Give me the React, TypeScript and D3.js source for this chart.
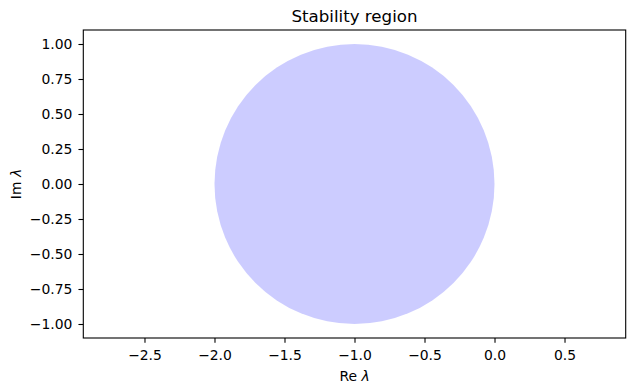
import { useEffect, useRef } from "react";
import * as d3 from "d3";

// stability region of forward Euler: |1 + λ| <= 1
const CENTER = { re: -1, im: 0 };
const RADIUS = 1;
const X_TICKS = [-2.5, -2.0, -1.5, -1.0, -0.5, 0.0, 0.5];
const Y_TICKS = [-1.0, -0.75, -0.5, -0.25, 0.0, 0.25, 0.5, 0.75, 1.0];
const X_DOMAIN: [number, number] = [-2.937, 0.937];
const Y_DOMAIN: [number, number] = [-1.1, 1.1];

const W = 635, H = 392;
const margin = { top: 30, right: 9.3, bottom: 54, left: 83.3 };
const FONT = "'DejaVu Sans', sans-serif";

export default function App() {
  const svgRef = useRef<SVGSVGElement>(null);

  useEffect(() => {
    if (!svgRef.current) return;
    const svg = d3.select(svgRef.current);
    svg.selectAll("*").remove();

    const x = d3.scaleLinear().domain(X_DOMAIN).range([margin.left, W - margin.right]);
    const y = d3.scaleLinear().domain(Y_DOMAIN).range([H - margin.bottom, margin.top]);

    // filled region
    const rx = x(CENTER.re + RADIUS) - x(CENTER.re);
    const ry = y(CENTER.im) - y(CENTER.im + RADIUS);
    svg.append("ellipse")
      .attr("cx", x(CENTER.re)).attr("cy", y(CENTER.im))
      .attr("rx", rx).attr("ry", ry)
      .attr("fill", "#0000ff").attr("fill-opacity", 0.2);

    // --- Axes ---
    const xAxisG = svg.append("g")
      .attr("transform", `translate(0,${H - margin.bottom})`)
      .call(d3.axisBottom(x).tickValues(X_TICKS).tickSize(4.86).tickPadding(7)
        .tickFormat((d) => d3.format(".1f")(d as number).replace("-", "−")));
    const yAxisG = svg.append("g")
      .attr("transform", `translate(${margin.left},0)`)
      .call(d3.axisLeft(y).tickValues(Y_TICKS).tickSize(4.86).tickPadding(6)
        .tickFormat((d) => d3.format(".2f")(d as number).replace("-", "−")));

    [xAxisG, yAxisG].forEach((g) => {
      g.select(".domain").remove();
      g.selectAll(".tick line").attr("stroke", "#000").attr("stroke-width", 1.1);
      g.selectAll("text").attr("fill", "#000").attr("font-size", "13.9px").attr("font-family", FONT);
    });
    xAxisG.selectAll("text").attr("dy", "0.71em");

    // frame
    svg.append("rect")
      .attr("x", margin.left).attr("y", margin.top)
      .attr("width", W - margin.left - margin.right)
      .attr("height", H - margin.top - margin.bottom)
      .attr("fill", "none").attr("stroke", "#000").attr("stroke-width", 1.1);

    // title
    svg.append("text")
      .attr("x", (margin.left + W - margin.right) / 2).attr("y", 21.5)
      .attr("text-anchor", "middle").attr("font-family", FONT).attr("font-size", "16.67px")
      .text("Stability region");

    // axis labels
    const xl = svg.append("text")
      .attr("x", (margin.left + W - margin.right) / 2).attr("y", 381)
      .attr("text-anchor", "middle").attr("font-family", FONT).attr("font-size", "13.9px");
    xl.append("tspan").text("Re ");
    xl.append("tspan").attr("font-style", "italic").text("λ");

    const yl = svg.append("text")
      .attr("transform", `translate(21,${(margin.top + H - margin.bottom) / 2}) rotate(-90)`)
      .attr("text-anchor", "middle").attr("font-family", FONT).attr("font-size", "13.9px");
    yl.append("tspan").text("Im ");
    yl.append("tspan").attr("font-style", "italic").text("λ");
  }, []);

  return (
    <svg ref={svgRef} width={W} height={H}
      style={{ position: "absolute", left: 0, top: 0, background: "#fff" }} />
  );
}
